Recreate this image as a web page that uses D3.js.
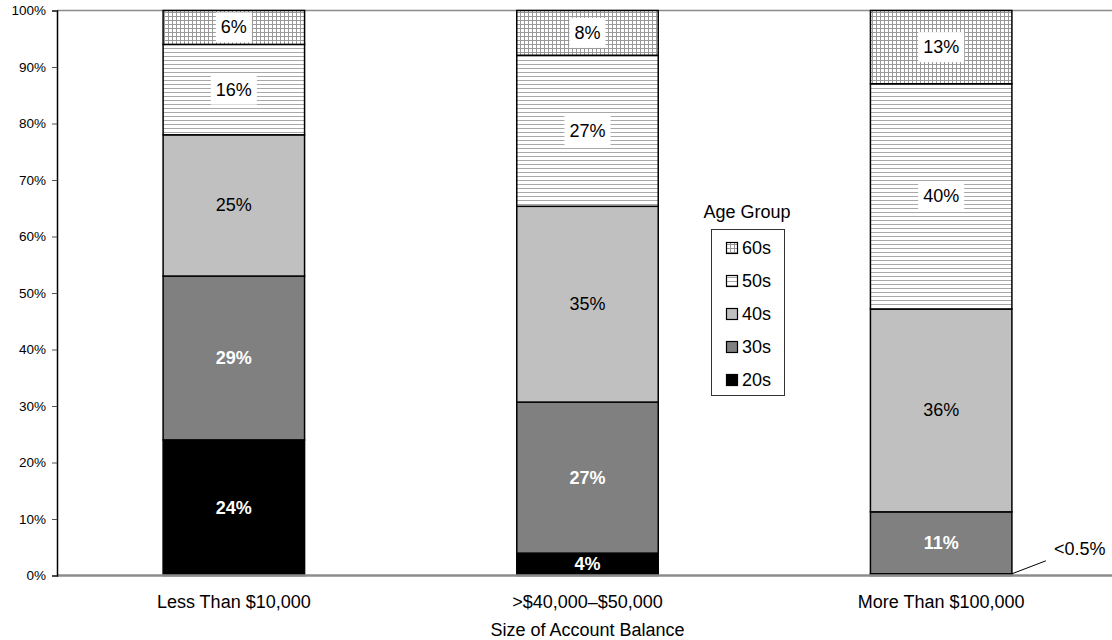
<!DOCTYPE html>
<html>
<head>
<meta charset="utf-8">
<script src="https://cdn.jsdelivr.net/npm/d3@7"></script>
<style>
  html, body { margin: 0; padding: 0; background: #fff; }
  svg { display: block; font-family: "Liberation Sans", Arial, sans-serif; }
</style>
</head>
<body>
<svg id="chart" width="1112" height="640"></svg>
<script>
// Account balance categories and the share of each age group (percent)
const categories = ["Less Than $10,000", ">$40,000\u2013$50,000", "More Than $100,000"];
const ageGroups = ["20s", "30s", "40s", "50s", "60s"];
const share20s = [24, 4, 0.3];
const share30s = [29, 27, 11];
const share40s = [25, 35, 36];
const share50s = [16, 27, 40];
const share60s = [6, 8, 13];
const yTicks = [0, 0.1, 0.2, 0.3, 0.4, 0.5, 0.6, 0.7, 0.8, 0.9, 1];

const rows = categories.map((c, i) => ({
  category: c,
  "20s": share20s[i], "30s": share30s[i], "40s": share40s[i],
  "50s": share50s[i], "60s": share60s[i]
}));

const svg = d3.select("#chart");
const W = 1112, H = 640;
const plotLeft = 57, plotTop = 10.5, plotBottom = 575.5, plotRight = 1118;

// Fill patterns for the two oldest groups
const defs = svg.append("defs");
const grid = defs.append("pattern").attr("id", "pat60").attr("patternUnits", "userSpaceOnUse")
  .attr("width", 4).attr("height", 4);
grid.append("rect").attr("width", 4).attr("height", 4).attr("fill", "#fff");
grid.append("rect").attr("x", 0).attr("y", 0).attr("width", 4).attr("height", 1).attr("fill", "#9a9a9a");
grid.append("rect").attr("x", 0).attr("y", 0).attr("width", 1).attr("height", 4).attr("fill", "#9a9a9a");
const hatch = defs.append("pattern").attr("id", "pat50").attr("patternUnits", "userSpaceOnUse")
  .attr("width", 4).attr("height", 4);
hatch.append("rect").attr("width", 4).attr("height", 4).attr("fill", "#fff");
hatch.append("rect").attr("x", 0).attr("y", 0).attr("width", 4).attr("height", 1).attr("fill", "#a8a8a8");

const fills = {
  "20s": "#000000", "30s": "#808080", "40s": "#c0c0c0",
  "50s": "url(#pat50)", "60s": "url(#pat60)"
};

const x = d3.scaleBand().domain(categories).range([plotLeft, plotRight])
  .paddingInner(0.6).paddingOuter(0.3);
const y = d3.scaleLinear().domain([0, 1]).range([plotBottom, plotTop]);

const stack = d3.stack().keys(ageGroups).offset(d3.stackOffsetExpand);
const series = stack(rows);

// Top reference line
svg.append("line").attr("x1", plotLeft).attr("x2", W).attr("y1", y(1)).attr("y2", y(1))
  .attr("stroke", "#8c8c8c").attr("stroke-width", 1.5);

// Stacked bars
const layer = svg.append("g").selectAll("g").data(series).join("g")
  .attr("fill", d => fills[d.key]);
layer.selectAll("rect").data(d => d.map(v => ({ key: d.key, v }))).join("rect")
  .attr("x", d => x(d.v.data.category))
  .attr("width", x.bandwidth())
  .attr("y", d => y(d.v[1]))
  .attr("height", d => y(d.v[0]) - y(d.v[1]))
  .attr("stroke", "#000").attr("stroke-width", 1.5);

// Base line
svg.append("line").attr("x1", plotLeft).attr("x2", W).attr("y1", y(0)).attr("y2", y(0))
  .attr("stroke", "#8c8c8c").attr("stroke-width", 2.5);

// Y axis
const yAxis = d3.axisLeft(y).tickValues(yTicks).tickFormat(d3.format(".0%"))
  .tickSize(5).tickPadding(6);
const ya = svg.append("g").attr("transform", `translate(${plotLeft},0)`).call(yAxis);
ya.select(".domain").attr("stroke", "#000").attr("stroke-width", 1.5);
ya.selectAll(".tick line").attr("stroke", "#555");
ya.selectAll("text").attr("font-size", 13.5).attr("fill", "#000")
  .attr("font-family", "Liberation Sans, Arial, sans-serif");

// Category labels and axis title
svg.append("g").selectAll("text").data(categories).join("text")
  .attr("x", d => x(d) + x.bandwidth() / 2).attr("y", 602)
  .attr("text-anchor", "middle").attr("dominant-baseline", "central")
  .attr("font-size", 18).text(d => d);
svg.append("text").attr("x", x(categories[1]) + x.bandwidth() / 2).attr("y", 630)
  .attr("text-anchor", "middle").attr("dominant-baseline", "central")
  .attr("font-size", 18).text("Size of Account Balance");

// Value labels inside segments
const labelG = svg.append("g");
series.forEach(s => {
  s.forEach(v => {
    const raw = v.data[s.key];
    if (raw < 0.5) return;
    const cx = x(v.data.category) + x.bandwidth() / 2;
    const cy = (y(v[0]) + y(v[1])) / 2;
    const txt = raw + "%";
    const dark = s.key === "20s" || s.key === "30s";
    const patterned = s.key === "50s" || s.key === "60s";
    const g = labelG.append("g");
    const t = g.append("text").attr("x", cx).attr("y", cy)
      .attr("text-anchor", "middle").attr("dominant-baseline", "central")
      .attr("font-size", 18).attr("font-weight", dark ? "bold" : "normal")
      .attr("fill", dark ? "#fff" : "#000").text(txt);
    if (patterned) {
      const bb = t.node().getBBox();
      const h = Math.min(30, y(v[0]) - y(v[1]) - 1.5);
      g.insert("rect", "text").attr("x", bb.x - 5).attr("width", bb.width + 10)
        .attr("y", cy - h / 2).attr("height", h).attr("fill", "#fff");
    }
  });
});

// Callout for the tiny 20s share in the last bar
const tiny = series[0][2];
const tx = x(categories[2]) + x.bandwidth();
svg.append("line").attr("x1", tx).attr("y1", y(tiny[1]))
  .attr("x2", tx + 34).attr("y2", y(tiny[1]) - 13)
  .attr("stroke", "#000").attr("stroke-width", 1);
svg.append("text").attr("x", tx + 42).attr("y", 549).attr("dominant-baseline", "central")
  .attr("font-size", 18).text("<0.5%");

// Legend
const lg = svg.append("g");
lg.append("text").attr("x", 747).attr("y", 212).attr("text-anchor", "middle")
  .attr("dominant-baseline", "central").attr("font-size", 18).text("Age Group");
lg.append("rect").attr("x", 711.5).attr("y", 229.5).attr("width", 73).attr("height", 166)
  .attr("fill", "#fff").attr("stroke", "#333").attr("stroke-width", 1);
const legendOrder = ageGroups.slice().reverse();
const ly = d3.scalePoint().domain(legendOrder).range([248, 380]);
const items = lg.selectAll("g.item").data(legendOrder).join("g").attr("class", "item")
  .attr("transform", d => `translate(726,${ly(d)})`);
items.append("rect").attr("x", 0.5).attr("y", -5.5).attr("width", 11).attr("height", 11)
  .attr("fill", d => fills[d]).attr("stroke", "#000").attr("stroke-width", 1.2);
items.append("text").attr("x", 16).attr("y", 0).attr("dominant-baseline", "central")
  .attr("font-size", 18).text(d => d);
</script>
</body>
</html>
